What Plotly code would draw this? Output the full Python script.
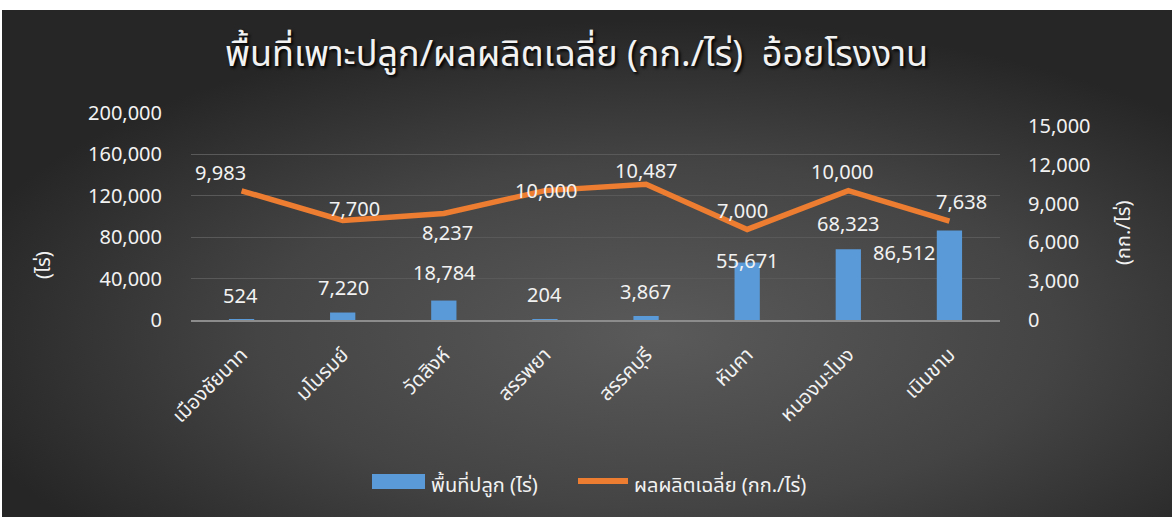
import base64
import plotly.graph_objects as go

categories = ["เมืองชัยนาท", "มโนรมย์", "วัดสิงห์", "สรรพยา", "สรรคบุรี", "หันคา", "หนองมะโมง", "เนินขาม"]
area_rai = [524, 7220, 18784, 204, 3867, 55671, 68323, 86512]
yield_kg = [9983, 7700, 8237, 10000, 10487, 7000, 10000, 7638]

title_text = "พื้นที่เพาะปลูก/ผลผลิตเฉลี่ย (กก./ไร่)  อ้อยโรงงาน"
bar_name = "พื้นที่ปลูก (ไร่)"
line_name = "ผลผลิตเฉลี่ย (กก./ไร่)"
left_ticks = [0, 40000, 80000, 120000, 160000, 200000]
right_ticks = [0, 3000, 6000, 9000, 12000, 15000]

# label offsets (px) – styling only
bar_lbl_off = [(-1, 24), (1, 25), (1, 28), (0, 25), (-1, 25), (0, 2), (0, 26), (-45, -22)]
line_lbl_off = [(-21, 18), (12, 12), (4, -19), (2, 0), (0, 14), (-5, 19), (-6, 19), (12, 20)]

FONT = "'Noto Sans', 'Noto Sans Thai', 'DejaVu Sans', sans-serif"
TXT = "#f2f2f2"
W, H = 1176, 517
L, R, T, B = 191, 176, 113, 197
pw, ph = W - L - R, H - T - B

svg = '''<svg xmlns="http://www.w3.org/2000/svg" width="1170" height="507" viewBox="0 0 1170 507" preserveAspectRatio="none">
<defs><radialGradient id="g" cx="0.56" cy="0.64" r="0.62">
<stop offset="0" stop-color="#5a5a5a"/><stop offset="0.55" stop-color="#444444"/><stop offset="1" stop-color="#262626"/>
</radialGradient></defs><rect width="1170" height="507" fill="url(#g)"/></svg>'''
bg_src = "data:image/svg+xml;base64," + base64.b64encode(svg.encode()).decode()


def px2x(p):
    return (p - L) / pw


def py2y(p):
    return (H - B - p) / ph


fig = go.Figure()
fig.add_trace(go.Bar(x=categories, y=area_rai, name=bar_name, showlegend=False,
                     marker=dict(color="#5a9ad8", line=dict(width=0)), yaxis="y"))
fig.add_trace(go.Scatter(x=categories, y=yield_kg, name=line_name, mode="lines", showlegend=False,
                         line=dict(color="#ED7D31", width=5.5), yaxis="y2"))

annotations = []
for c, v, (dx, dy) in zip(categories, area_rai, bar_lbl_off):
    annotations.append(dict(x=c, y=v, xref="x", yref="y", text=f"{v:,}", showarrow=False,
                            xanchor="center", yanchor="middle",
                            xshift=dx, yshift=dy, font=dict(size=20, color=TXT, family=FONT)))
for c, v, (dx, dy) in zip(categories, yield_kg, line_lbl_off):
    annotations.append(dict(x=c, y=v, xref="x", yref="y2", text=f"{v:,}", showarrow=False,
                            xanchor="center", yanchor="middle",
                            xshift=dx, yshift=dy, font=dict(size=20, color=TXT, family=FONT)))
annotations.append(dict(x=px2x(576), y=py2y(52), xref="paper", yref="paper", text=title_text,
                        showarrow=False, xanchor="center", yanchor="middle",
                        font=dict(size=36, color=TXT, family=FONT, shadow="2px 2px 3px #000000")))
annotations.append(dict(x=px2x(42), y=py2y(265), xref="paper", yref="paper", text="(ไร่)",
                        showarrow=False, textangle=-90, xanchor="center", yanchor="middle",
                        font=dict(size=20, color=TXT, family=FONT)))
annotations.append(dict(x=px2x(1122), y=py2y(233), xref="paper", yref="paper", text="(กก./ไร่)",
                        showarrow=False, textangle=-90, xanchor="center", yanchor="middle",
                        font=dict(size=20, color=TXT, family=FONT)))
# legend texts
annotations.append(dict(x=px2x(429), y=py2y(484), xref="paper", yref="paper", text=bar_name,
                        showarrow=False, xanchor="left", yanchor="middle",
                        font=dict(size=20, color=TXT, family=FONT)))
annotations.append(dict(x=px2x(632), y=py2y(484), xref="paper", yref="paper", text=line_name,
                        showarrow=False, xanchor="left", yanchor="middle",
                        font=dict(size=20, color=TXT, family=FONT)))

shapes = [
    dict(type="rect", xref="paper", yref="paper", x0=px2x(372), x1=px2x(425),
         y0=py2y(489), y1=py2y(474), fillcolor="#5a9ad8", line=dict(width=0)),
    dict(type="line", xref="paper", yref="paper", x0=px2x(578), x1=px2x(628),
         y0=py2y(481), y1=py2y(481), line=dict(color="#ED7D31", width=6)),
]

fig.update_layout(
    width=W, height=H,
    margin=dict(l=L, r=R, t=T, b=B, pad=0),
    paper_bgcolor="white", plot_bgcolor="rgba(0,0,0,0)",
    font=dict(family=FONT, color=TXT, size=20),
    bargap=0.75,
    showlegend=False,
    images=[dict(source=bg_src, xref="paper", yref="paper", x=px2x(2), y=py2y(10),
                 sizex=1170 / pw, sizey=507 / ph, xanchor="left", yanchor="top",
                 sizing="stretch", layer="below")],
    xaxis=dict(showgrid=False, showline=True, linecolor="#8c8c8c", linewidth=2,
               tickangle=-45, tickfont=dict(size=20, color=TXT, family=FONT),
               ticks="", ticklabelstandoff=13),
    yaxis=dict(range=[0, 200000], tickvals=left_ticks, tickformat=",", showgrid=True,
               gridcolor="#595959", gridwidth=1, zeroline=False, showline=False,
               tickfont=dict(size=20, color=TXT, family=FONT), ticklabelstandoff=28),
    yaxis2=dict(range=[0, 16000], tickvals=right_ticks, tickformat=",", overlaying="y",
                side="right", showgrid=False, zeroline=False, showline=False,
                tickfont=dict(size=20, color=TXT, family=FONT), ticklabelstandoff=27),
    annotations=annotations,
    shapes=shapes,
)

fig.write_html("out.html", config={"displayModeBar": False},
               post_script="document.body.style.margin='0';document.body.style.overflow='hidden';")
